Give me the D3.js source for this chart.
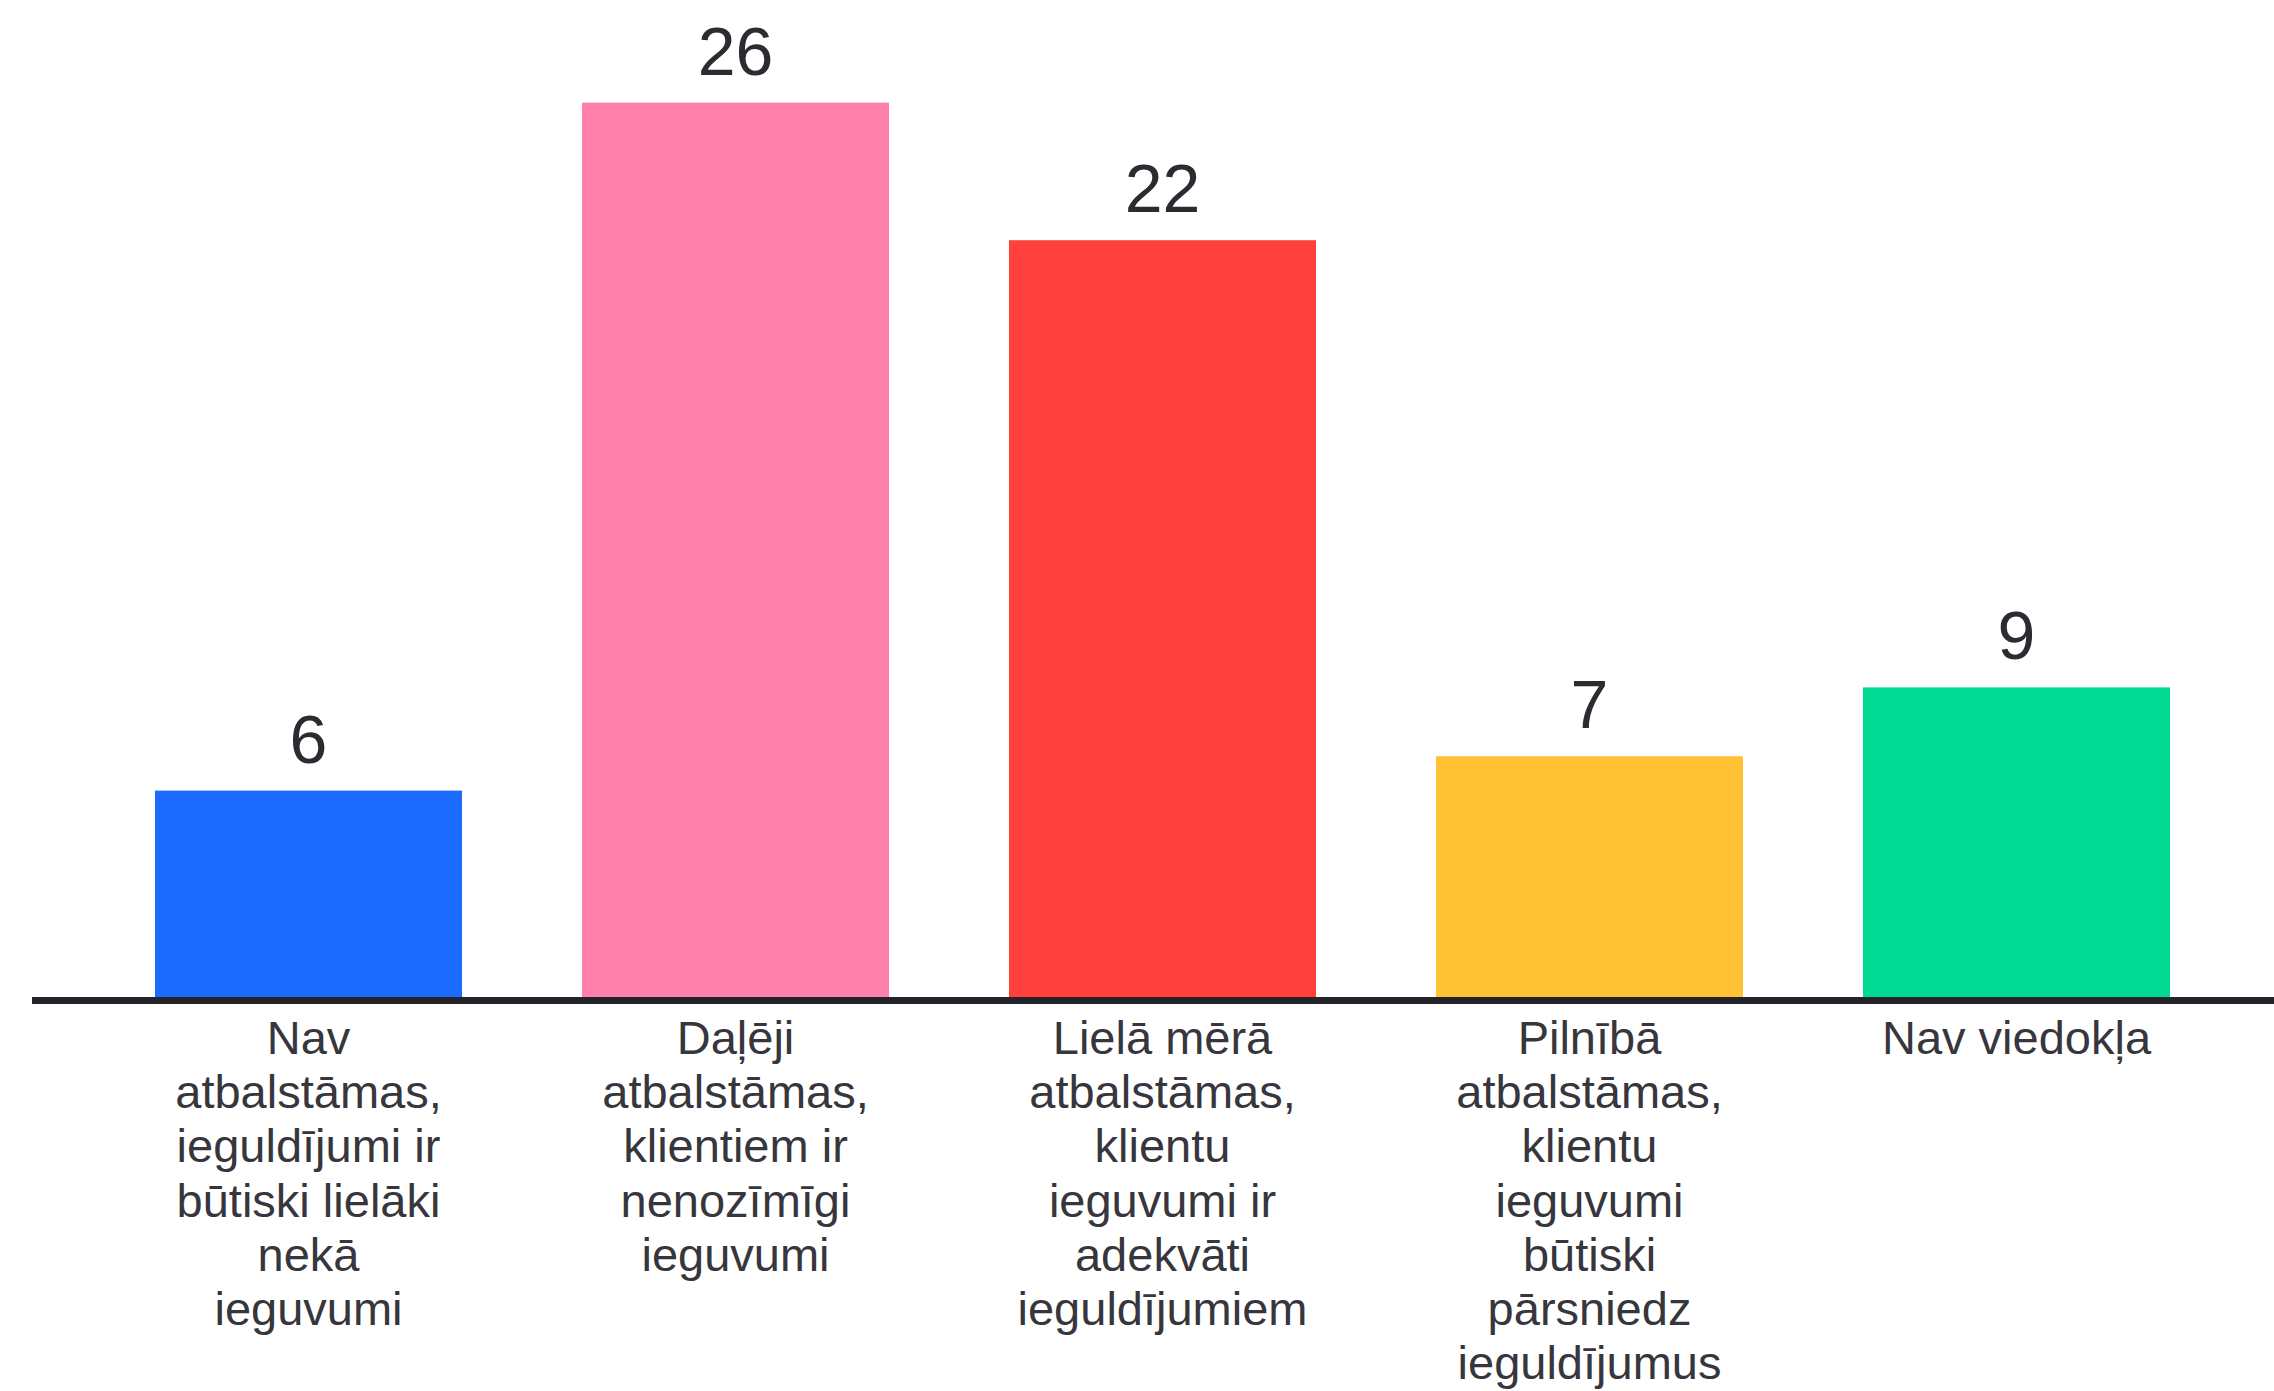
<!DOCTYPE html>
<html>
<head>
<meta charset="utf-8">
<script src="https://cdn.jsdelivr.net/npm/d3@7"></script>
<style>
  html, body { margin: 0; padding: 0; background: #ffffff; }
  svg { display: block; }
  .value { font-family: "Liberation Sans", Arial, sans-serif; font-size: 68px; fill: #2b2b31; }
  .cat { font-family: "Liberation Sans", Arial, sans-serif; font-size: 47px; fill: #36363c; }
</style>
</head>
<body>
<svg id="chart" viewBox="0 0 2274 1391" width="2274" height="1391"></svg>
<script>
// survey answers
const categories = [
    "Nav atbalstāmas",
    "Daļēji atbalstāmas",
    "Lielā mērā atbalstāmas",
    "Pilnībā atbalstāmas",
    "Nav viedokļa"
];
const values = [6, 26, 22, 7, 9];
const labelLines = [
    ["Nav", "atbalstāmas,", "ieguldījumi ir", "būtiski lielāki", "nekā", "ieguvumi"],
    ["Daļēji", "atbalstāmas,", "klientiem ir", "nenozīmīgi", "ieguvumi"],
    ["Lielā mērā", "atbalstāmas,", "klientu", "ieguvumi ir", "adekvāti", "ieguldījumiem"],
    ["Pilnībā", "atbalstāmas,", "klientu", "ieguvumi", "būtiski", "pārsniedz", "ieguldījumus"],
    ["Nav viedokļa"]
];
const barColors = ["#1c6bff", "#ff80ab", "#ff403c", "#ffc235", "#00d991"];

const svg = d3.select("#chart");
const width = parseInt(svg.attr("viewBox").split(' ')[2]);
const baseline = 997;

const x = d3.scaleBand()
    .domain(categories)
    .range([95, 2230])
    .paddingInner(0.281)
    .paddingOuter(0.1405);

const y = d3.scaleLinear()
    .domain([0, 26])
    .range([baseline, 102.6]);

const color = d3.scaleOrdinal()
    .domain(categories)
    .range(barColors);

const data = categories.map((c, i) => ({ name: c, value: values[i], lines: labelLines[i] }));

svg.append("g")
    .selectAll("rect")
    .data(data)
    .enter()
    .append("rect")
    .attr("x", d => x(d.name))
    .attr("width", x.bandwidth())
    .attr("y", d => y(d.value))
    .attr("height", d => y(0) - y(d.value) + 1)
    .attr("fill", d => color(d.name));

svg.append("g")
    .selectAll("text")
    .data(data)
    .enter()
    .append("text")
    .attr("class", "value")
    .attr("text-anchor", "middle")
    .attr("x", d => x(d.name) + x.bandwidth() / 2)
    .attr("y", d => y(d.value) - 28)
    .text(d => d.value);

// baseline axis
svg.append("line")
    .attr("x1", 32)
    .attr("x2", width)
    .attr("y1", baseline + 3.5)
    .attr("y2", baseline + 3.5)
    .attr("stroke", "#232329")
    .attr("stroke-width", 7);

const catLabels = svg.append("g")
    .selectAll("text")
    .data(data)
    .enter()
    .append("text")
    .attr("class", "cat")
    .attr("text-anchor", "middle")
    .attr("transform", d => `translate(${x(d.name) + x.bandwidth() / 2},1054)`);

catLabels.selectAll("tspan")
    .data(d => d.lines)
    .enter()
    .append("tspan")
    .attr("x", 0)
    .attr("y", (d, i) => i * 54.2)
    .text(d => d);
</script>
</body>
</html>
